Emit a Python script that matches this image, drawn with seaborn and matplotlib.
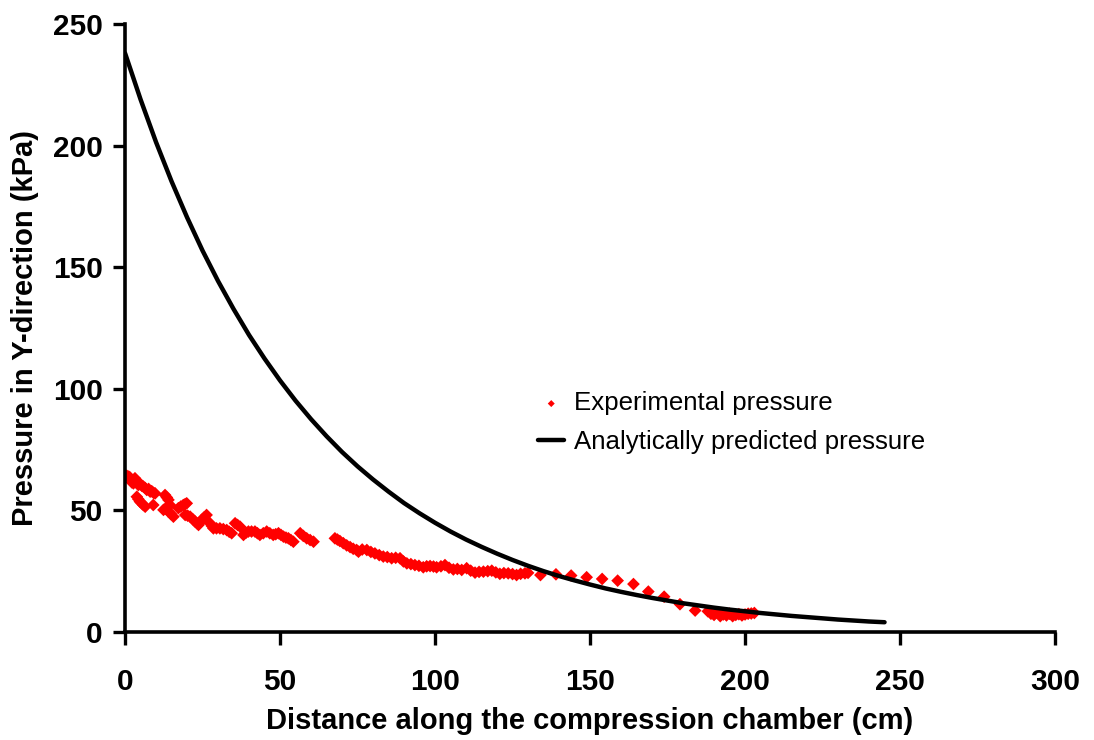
import matplotlib
matplotlib.use("Agg")
import matplotlib.pyplot as plt
import seaborn as sns
import numpy as np

# ---------------- data ----------------
# Experimental pressure, segment 1 (0-61 cm)
seg1_x = [0, 0.6, 1.2, 1.6, 2.2, 2.7, 3.2, 3.8, 4.3, 4.9, 5.4, 5.9, 6.5, 7.0, 7.6, 8.1, 8.6, 9.2, 9.7,
          3.8, 4.3, 4.8, 5.4, 5.9, 6.5, 9.1,
          12.4, 12.9, 13.5, 14.0, 14.5, 13.2, 14.0, 14.8, 15.6,
          17.2, 18.0, 18.8, 19.4, 19.9, 19.4, 20.2, 21.0, 21.8, 22.6, 23.2, 23.7, 24.2, 24.7, 25.5, 26.3,
          27.4, 28.0, 28.5, 29.5, 30.6, 31.7, 32.8, 33.6, 34.4, 35.5, 36.3, 37.1, 38.2, 39.0, 39.8, 40.8,
          41.9, 42.7, 43.5, 44.6, 45.7, 46.7, 47.8, 48.6, 49.5, 50.3, 51.1, 51.9, 52.7, 53.5, 54.3, 56.5,
          57.5, 58.6, 59.7, 60.8]
seg1_y = [64.6, 64.2, 63.9, 63.5, 61.5, 61.1, 63.2, 61.8, 60.4, 60.9, 60.1, 59.8, 59.2, 58.4, 58.8, 57.7, 57.9, 57.2, 57.0,
          55.6, 54.6, 53.6, 52.9, 52.2, 51.5, 52.2,
          50.2, 56.3, 55.3, 54.3, 52.2, 51.0, 49.5, 48.5, 47.4,
          50.9, 51.6, 52.2, 52.6, 52.9, 48.1, 47.8, 47.4, 46.4, 45.4, 44.7, 44.0, 45.0, 46.1, 47.1, 48.1,
          44.7, 43.6, 42.6, 42.6, 42.6, 42.3, 41.9, 41.2, 40.6, 44.7, 44.0, 43.3, 39.9, 40.8, 41.3, 41.3,
          41.3, 40.6, 39.9, 40.6, 41.3, 40.6, 39.9, 40.2, 40.6, 39.9, 39.2, 38.8, 38.5, 37.8, 37.1, 40.6,
          39.5, 38.5, 37.8, 37.1]

# Experimental pressure, segment 2 (68-130 cm)
seg2_x = [67.7, 68.5, 69.3, 70.4, 71.5, 72.6, 73.6, 74.7, 75.3, 76.5, 78.0, 79.3, 80.6, 82.0, 83.3, 84.6,
          86.0, 87.3, 88.7, 89.8, 90.9, 92.2, 93.5, 94.8, 96.2, 97.3, 98.4, 99.5, 100.5, 101.9, 103.2,
          104.5, 105.9, 107.2, 108.6, 110.2, 111.5, 112.9, 114.2, 115.6, 117.0, 118.3, 119.6, 120.9,
          122.2, 123.6, 125.0, 126.3, 127.6, 129.0, 130.0]
seg2_y = [38.5, 38.0, 37.4, 36.5, 35.6, 34.9, 34.2, 33.7, 33.0, 33.9, 33.7, 32.9, 32.3, 31.6, 31.0, 30.8,
          30.3, 30.5, 30.3, 29.0, 28.2, 27.9, 27.5, 27.2, 26.6, 27.0, 27.1, 26.9, 26.6, 27.0, 27.5,
          26.4, 25.7, 25.9, 25.5, 26.2, 25.2, 24.4, 24.7, 24.8, 25.0, 25.2, 24.5, 23.9,
          24.2, 24.1, 23.8, 23.4, 23.9, 24.1, 24.3]

# Experimental pressure, segment 3 (sparse, 134-184 cm)
seg3_x = [134.0, 139.0, 143.9, 148.9, 153.9, 158.9, 164.0, 168.8, 173.9, 179.0, 183.9]
seg3_y = [23.4, 23.7, 23.2, 22.5, 21.8, 21.1, 19.7, 16.6, 14.5, 11.4, 8.8]

# Experimental pressure, segment 4 (cluster, 188-203 cm)
seg4_x = [188, 189, 190, 191, 192, 193, 194, 195, 196, 197, 198, 199, 200, 201, 202, 203]
seg4_y = [8.5, 7.5, 7.0, 8.0, 6.5, 7.2, 6.8, 7.5, 6.5, 7.0, 7.3, 6.8, 7.2, 7.5, 7.6, 7.8]

# Analytically predicted pressure
ana_x = [0, 5, 10, 15, 20, 25, 30, 35, 40, 45, 50, 55, 60, 65, 70, 75, 80, 85, 90, 95, 100,
         105, 110, 115, 120, 125, 130, 135, 140, 145, 150, 155, 160, 165, 170, 175, 180, 185,
         190, 195, 200, 205, 210, 215, 220, 225, 230, 235, 240, 245]
ana_y = [238.0, 219.0, 201.4, 185.3, 170.5, 156.8, 144.3, 132.8, 122.1, 112.4, 103.4, 95.1, 87.5,
         80.5, 74.0, 68.1, 62.7, 57.7, 53.0, 48.8, 44.9, 41.3, 38.0, 35.0, 32.2, 29.6, 27.2, 25.0,
         23.0, 21.2, 19.5, 17.9, 16.5, 15.2, 14.0, 12.9, 11.8, 10.9, 10.0, 9.2, 8.5, 7.8, 7.2, 6.6,
         6.1, 5.6, 5.1, 4.7, 4.3, 4.0]

x_ticks = [0, 50, 100, 150, 200, 250, 300]
y_ticks = [0, 50, 100, 150, 200, 250]

exp_x = seg1_x + seg2_x + seg3_x + seg4_x
exp_y = seg1_y + seg2_y + seg3_y + seg4_y

# ---------------- plot ----------------
sns.set_style("ticks")
plt.rcParams['font.family'] = ['Liberation Sans', 'DejaVu Sans']
plt.rcParams['text.color'] = 'black'
plt.rcParams['axes.labelcolor'] = 'black'
plt.rcParams['xtick.color'] = 'black'
plt.rcParams['ytick.color'] = 'black'

fig = plt.figure(figsize=(10.94, 7.40), dpi=100)
ax = fig.add_axes([0.1143, 0.146, 0.8501, 0.8216])

sns.scatterplot(x=exp_x, y=exp_y, ax=ax, marker='D', color='#ff0000', s=42,
                edgecolor='none', linewidth=0, label='Experimental pressure', zorder=2)
sns.lineplot(x=ana_x, y=ana_y, ax=ax, color='black', linewidth=3.2,
             label='Analytically predicted pressure', zorder=3, sort=False)

ax.set_xlim(0, 300)
ax.set_ylim(0, 250)
ax.set_xticks(x_ticks)
ax.set_yticks(y_ticks)
ax.set_xticklabels([str(v) for v in x_ticks], fontsize=21.5, fontweight='bold')
ax.set_yticklabels([str(v) for v in y_ticks], fontsize=21.5, fontweight='bold')
ax.tick_params(axis='both', direction='out', length=9, width=2.4, color='black', pad=7)
ax.tick_params(axis='x', pad=17)

for side in ['top', 'right']:
    ax.spines[side].set_visible(False)
for side in ['left', 'bottom']:
    ax.spines[side].set_linewidth(2.6)
    ax.spines[side].set_color('black')

ax.set_xlabel('Distance along the compression chamber (cm)', fontsize=21, fontweight='bold', labelpad=8)
ax.set_ylabel('Pressure in Y-direction (kPa)', fontsize=21, fontweight='bold', labelpad=10)

handles, labels = ax.get_legend_handles_labels()
leg = ax.legend(handles, labels, loc='upper left', frameon=False,
                fontsize=18.6, handlelength=1.0, handletextpad=0.4, borderpad=0, labelspacing=0.58,
                markerscale=0.55)
leg.set_bbox_to_anchor((0.4305, 0.417), transform=ax.transAxes)

fig.savefig('out.png', dpi=100, facecolor='white')
